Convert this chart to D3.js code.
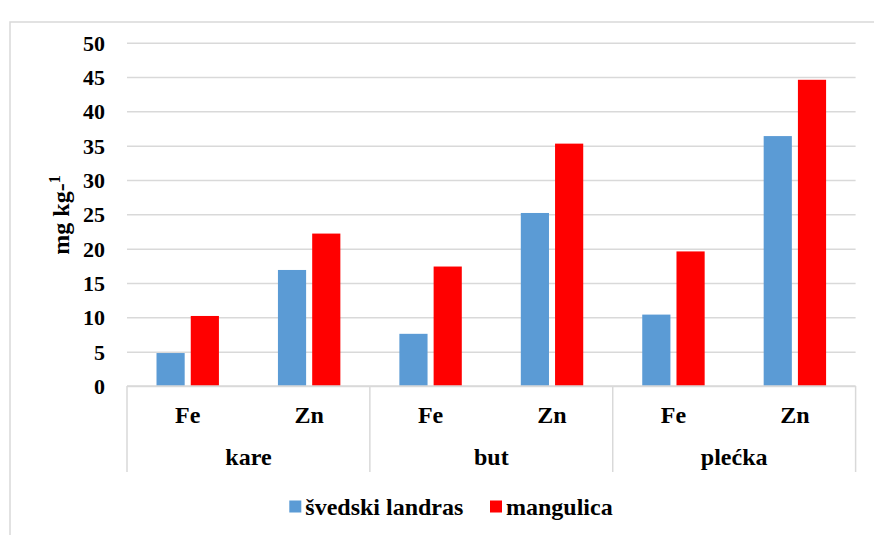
<!DOCTYPE html>
<html><head><meta charset="utf-8">
<script src="https://cdn.jsdelivr.net/npm/d3@7"></script>
<style>
html,body{margin:0;padding:0;background:#fff;}
</style></head>
<body>
<svg id="chart" width="874" height="535"></svg>
<script>
const groups = ["kare", "but", "plećka"];
const elements = ["Fe", "Zn"];
const seriesNames = ["švedski landras", "mangulica"];
const seriesColors = ["#5b9bd5", "#ff0000"];
const svedski = [4.8, 16.9, 7.6, 25.2, 10.4, 36.4];
const mangulica = [10.2, 22.2, 17.4, 35.3, 19.6, 44.6];
const yTicks = [0, 5, 10, 15, 20, 25, 30, 35, 40, 45, 50];

const FONT = "'Liberation Serif', 'Times New Roman', 'DejaVu Serif', serif";
const svg = d3.select("#chart");
const L = 127, R = 855.6, T = 42.7, B = 386;

svg.append("rect").attr("x", 10).attr("y", 22).attr("width", 900).attr("height", 600)
  .attr("fill", "none").attr("stroke", "#d9d9d9").attr("stroke-width", 1.5);

const subcats = [];
groups.forEach(g => elements.forEach(e => subcats.push(g + "|" + e)));

const x = d3.scaleBand().domain(subcats).range([L, R]).padding(0);
const xg = d3.scaleBand().domain(groups).range([L, R]).padding(0);
const y = d3.scaleLinear().domain([0, 50]).range([B, T]);

const yAxis = d3.axisLeft(y).tickValues(yTicks).tickSize(-(R - L)).tickFormat(d3.format("d"));
const ga = svg.append("g").attr("transform", `translate(${L},0)`).call(yAxis)
  .attr("font-family", null).attr("font-size", null);
ga.select(".domain").remove();
ga.selectAll(".tick line").attr("stroke", "#d9d9d9").attr("stroke-width", 1.5);
ga.selectAll(".tick text").attr("x", -22).attr("dy", "0.34em")
  .style("font-family", FONT).style("font-weight", "700").style("font-size", "22px").attr("fill", "#000");

const bw = x.bandwidth();
const barW = bw * 0.232, gap = bw * 0.05;
const series = [svedski, mangulica];
series.forEach((vals, si) => {
  svg.append("g").selectAll("rect").data(vals).join("rect")
    .attr("x", (d, i) => x(subcats[i]) + bw / 2 - gap / 2 - barW + si * (barW + gap))
    .attr("y", d => y(d))
    .attr("width", barW)
    .attr("height", d => y(0) - y(d))
    .attr("fill", seriesColors[si]);
});

svg.append("line").attr("x1", L).attr("x2", R).attr("y1", B).attr("y2", B)
  .attr("stroke", "#d9d9d9").attr("stroke-width", 1.5);
const seps = groups.map(g => xg(g)).concat([R]);
svg.append("g").selectAll("line").data(seps).join("line")
  .attr("x1", d => d).attr("x2", d => d).attr("y1", B).attr("y2", 472)
  .attr("stroke", "#d9d9d9").attr("stroke-width", 1.5);

function txt(sel, size) {
  return sel.style("font-family", FONT).style("font-weight", "700").style("font-size", size + "px").attr("fill", "#000");
}

txt(svg.append("g").selectAll("text").data(subcats).join("text")
  .attr("x", d => x(d) + bw / 2).attr("y", 422.5)
  .attr("text-anchor", "middle"), 24)
  .text(d => d.split("|")[1]);
txt(svg.append("g").selectAll("text").data(groups).join("text")
  .attr("x", d => xg(d) + xg.bandwidth() / 2).attr("y", 465)
  .attr("text-anchor", "middle"), 24)
  .text(d => d);

const yt = txt(svg.append("text").attr("transform", "translate(69,215) rotate(-90)")
  .attr("text-anchor", "middle"), 24);
yt.append("tspan").text("mg kg-");
yt.append("tspan").attr("dy", -9).style("font-size", "16px").text("1");

const legX = [289.3, 490];
seriesNames.forEach((n, i) => {
  svg.append("rect").attr("x", legX[i]).attr("y", 500.5).attr("width", 12).attr("height", 12)
    .attr("fill", seriesColors[i]);
  txt(svg.append("text").attr("x", legX[i] + 16).attr("y", 515), 24).text(n);
});
</script>
</body></html>
